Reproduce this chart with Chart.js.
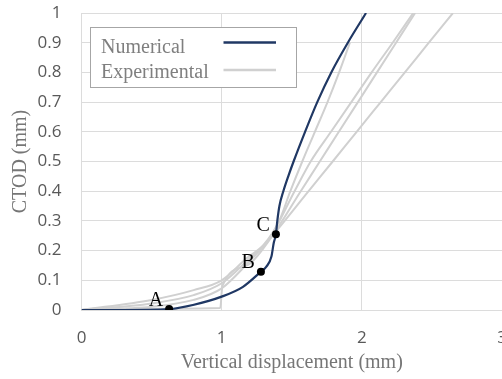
<!DOCTYPE html>
<html>
<head>
<meta charset="utf-8">
<script src="https://cdn.jsdelivr.net/npm/chart.js@4/dist/chart.umd.min.js"></script>
<style>
  html, body { margin: 0; padding: 0; background: #ffffff; overflow: hidden; }
  canvas { display: block; }
</style>
</head>
<body>
<canvas id="c" width="506" height="379"></canvas>
<script>
// Tick values
const xTicks = [0, 1, 2, 3];
const yTicks = [0, 0.1, 0.2, 0.3, 0.4, 0.5, 0.6, 0.7, 0.8, 0.9, 1];

// Numerical CTOD curve (mm)
const numX = [0, 0.3, 0.625, 0.795, 1.0, 1.152, 1.28, 1.319, 1.355, 1.371, 1.387, 1.397, 1.412, 1.44, 1.475, 1.513, 1.595, 1.682, 1.782, 1.9, 2.03];
const numY = [0, 0, 0.003, 0.017, 0.045, 0.078, 0.129, 0.146, 0.18, 0.225, 0.255, 0.3, 0.35, 0.4, 0.45, 0.5, 0.6, 0.7, 0.8, 0.9, 1.0];

// Experimental CTOD curves (mm)
const exp1X = [0, 0.5, 0.8, 1.0, 1.18, 1.3, 1.41, 1.49, 1.575, 1.665, 1.755, 1.838, 1.915];
const exp1Y = [0, 0.034, 0.067, 0.1, 0.175, 0.22, 0.3, 0.4, 0.5, 0.6, 0.7, 0.8, 0.9];
const exp2X = [0, 0.5, 0.8, 1.0, 1.18, 1.34, 1.52, 1.635, 1.78, 1.925, 2.07, 2.22, 2.367];
const exp2Y = [0, 0.022, 0.05, 0.09, 0.165, 0.24, 0.4, 0.5, 0.6, 0.7, 0.8, 0.9, 1.0];
const exp3X = [0, 0.5, 0.8, 1.0, 1.18, 1.36, 1.564, 1.7, 1.836, 1.972, 2.108, 2.244, 2.38];
const exp3Y = [0, 0.011, 0.034, 0.073, 0.155, 0.25, 0.4, 0.5, 0.6, 0.7, 0.8, 0.9, 1.0];
const exp4X = [0, 0.2, 0.99, 1.005, 1.18, 1.38, 1.62, 1.792, 1.963, 2.135, 2.307, 2.478, 2.65];
const exp4Y = [0, 0.004, 0.007, 0.08, 0.15, 0.26, 0.4, 0.5, 0.6, 0.7, 0.8, 0.9, 1.0];

// Marked states on the numerical curve
const markNames = ['A', 'B', 'C'];
const markX = [0.625, 1.28, 1.387];
const markY = [0.003, 0.129, 0.255];

const NAVY = '#203864';
const GREY = '#D0D0D0';
const SERIF = '"Liberation Serif", "Times New Roman", serif';

const pts = (xs, ys) => xs.map((x, i) => ({ x: x, y: ys[i] }));

const expSet = (xs, ys) => ({
  label: 'Experimental',
  data: pts(xs, ys),
  showLine: true,
  borderColor: GREY,
  backgroundColor: GREY,
  borderWidth: 2,
  pointRadius: 0,
  cubicInterpolationMode: 'monotone',
  order: 3,
  inLegend: true
});

const datasets = [
  {
    label: 'Numerical',
    data: pts(numX, numY),
    showLine: true,
    borderColor: NAVY,
    backgroundColor: NAVY,
    borderWidth: 2.2,
    pointRadius: 0,
    cubicInterpolationMode: 'monotone',
    order: 1,
    inLegend: true
  },
  expSet(exp1X, exp1Y),
  expSet(exp2X, exp2Y),
  expSet(exp3X, exp3Y),
  expSet(exp4X, exp4Y),
  {
    label: 'marks',
    data: pts(markX, markY),
    names: markNames,
    showLine: false,
    pointRadius: 4,
    pointHoverRadius: 4,
    backgroundColor: '#000000',
    borderWidth: 0,
    order: 0
  }
];

// Letters beside the marked points
const markLabels = {
  id: 'markLabels',
  afterDatasetsDraw(chart) {
    const ctx = chart.ctx;
    chart.data.datasets.forEach((ds, i) => {
      if (!ds.names) return;
      const meta = chart.getDatasetMeta(i);
      ctx.save();
      ctx.font = '20px ' + SERIF;
      ctx.fillStyle = '#000000';
      ctx.textAlign = 'right';
      ctx.textBaseline = 'alphabetic';
      meta.data.forEach((p, j) => {
        ctx.fillText(ds.names[j], p.x - 6, p.y - 3.5);
      });
      ctx.restore();
    });
  }
};

// Boxed legend inside the plot area
const boxLegend = {
  id: 'boxLegend',
  afterDraw(chart) {
    const ctx = chart.ctx;
    const a = chart.chartArea;
    const seen = new Set();
    const items = [];
    chart.data.datasets.forEach(ds => {
      if (ds.inLegend && !seen.has(ds.label)) {
        seen.add(ds.label);
        items.push({ text: ds.label, color: ds.borderColor });
      }
    });
    const bx = Math.round(a.left) + 8.5, by = Math.round(a.top) + 14.5, bw = 206, bh = 60;
    ctx.save();
    ctx.fillStyle = '#ffffff';
    ctx.fillRect(bx, by, bw, bh);
    ctx.strokeStyle = '#A6A6A6';
    ctx.lineWidth = 1;
    ctx.strokeRect(bx, by, bw, bh);
    ctx.font = '20px ' + SERIF;
    ctx.textAlign = 'left';
    ctx.textBaseline = 'alphabetic';
    const rows = [{ text: 25, line: 15 }, { text: 50, line: 42.5 }];
    items.forEach((it, k) => {
      ctx.fillStyle = '#7F7F7F';
      ctx.fillText(it.text, bx + 10.5, by + rows[k].text);
      ctx.strokeStyle = it.color;
      ctx.lineWidth = 2.6;
      ctx.beginPath();
      ctx.moveTo(bx + 133, by + rows[k].line);
      ctx.lineTo(bx + 185.5, by + rows[k].line);
      ctx.stroke();
    });
    ctx.restore();
  }
};

new Chart(document.getElementById('c'), {
  type: 'scatter',
  data: { datasets: datasets },
  plugins: [markLabels, boxLegend],
  options: {
    responsive: false,
    animation: false,
    devicePixelRatio: 1,
    layout: { padding: { left: 0, right: 0.5, top: 13, bottom: 0 } },
    plugins: {
      legend: { display: false },
      tooltip: { enabled: false }
    },
    scales: {
      x: {
        type: 'linear',
        min: 0,
        max: 3,
        afterBuildTicks: s => { s.ticks = xTicks.map(v => ({ value: v })); },
        afterFit: s => { s.height = 69; s.paddingLeft = 0; s.paddingRight = 0; },
        grid: { color: '#DCDCDC', lineWidth: 1, drawTicks: false },
        border: { color: '#DCDCDC' },
        ticks: {
          padding: 18,
          color: '#595959',
          font: { family: '"Open Sans", sans-serif', size: 17 },
          maxRotation: 0,
          callback: v => String(v)
        },
        title: {
          display: true,
          text: 'Vertical displacement (mm)',
          color: '#767676',
          font: { family: SERIF, size: 20 },
          padding: { top: 0, bottom: 4 }
        }
      },
      y: {
        type: 'linear',
        min: 0,
        max: 1,
        afterBuildTicks: s => { s.ticks = yTicks.map(v => ({ value: v })); },
        afterFit: s => { s.width = 81.5; s.paddingTop = 0; s.paddingBottom = 0; },
        grid: { color: '#DCDCDC', lineWidth: 1, drawTicks: false },
        border: { color: '#DCDCDC' },
        ticks: {
          padding: 20,
          color: '#595959',
          font: { family: '"Open Sans", sans-serif', size: 17 },
          callback: v => String(v)
        },
        title: {
          display: true,
          text: 'CTOD (mm)',
          color: '#767676',
          font: { family: SERIF, size: 20 },
          padding: { top: 9, bottom: 0 }
        }
      }
    }
  }
});
</script>
</body>
</html>
